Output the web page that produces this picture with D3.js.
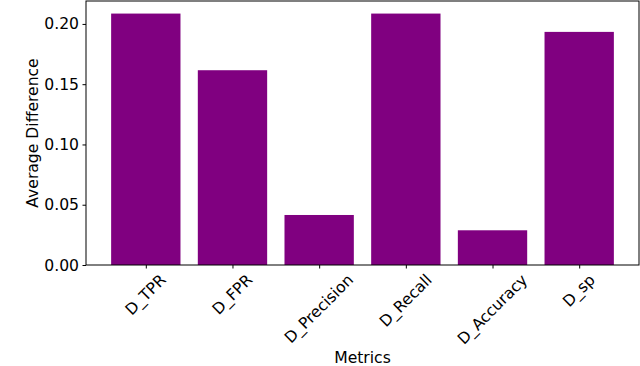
<!DOCTYPE html>
<html>
<head>
<meta charset="utf-8">
<script src="https://cdn.jsdelivr.net/npm/d3@7"></script>
<style>
  body { margin: 0; background: #fff; }
  text { font-family: "DejaVu Sans", sans-serif; }
</style>
</head>
<body>
<div id="chart"></div>
<script>
const metrics = ["D_TPR", "D_FPR", "D_Precision", "D_Recall", "D_Accuracy", "D_sp"];
const avgDiff = [0.2086, 0.1616, 0.0415, 0.2086, 0.0288, 0.1934];
const yTicks = [0.00, 0.05, 0.10, 0.15, 0.20];

const svgWidth = 640;
const svgHeight = 366;
const margin = { top: 1, right: 1, bottom: 101, left: 86 };
const width = svgWidth - margin.left - margin.right;
const height = svgHeight - margin.top - margin.bottom;
const fontSize = 15.6;

const svg = d3.select("#chart")
    .append("svg")
    .attr("width", svgWidth)
    .attr("height", svgHeight);

const g = svg.append("g")
    .attr("transform", `translate(${margin.left},${margin.top})`);

// matplotlib-like limits: bars of width 0.8 with 5% margins
const n = metrics.length;
const lo = -0.4 - 0.05 * (n - 0.2);
const hi = n - 1 + 0.4 + 0.05 * (n - 0.2);
const xScale = d3.scaleLinear().domain([lo, hi]).range([0, width]);

const yScale = d3.scaleLinear()
    .domain([0, d3.max(avgDiff) * 1.05])
    .range([height, 0]);

g.selectAll("rect.bar")
    .data(avgDiff)
    .enter()
    .append("rect")
    .attr("class", "bar")
    .attr("x", (d, i) => xScale(i - 0.4))
    .attr("width", xScale(0.8) - xScale(0))
    .attr("y", d => yScale(d))
    .attr("height", d => height - yScale(d))
    .attr("fill", "#800080");

// y axis
const yAxis = g.append("g")
    .call(d3.axisLeft(yScale).tickValues(yTicks).tickFormat(d3.format(".2f")).tickSize(3.5).tickPadding(3.5));
yAxis.select(".domain").remove();
yAxis.selectAll("text").attr("font-size", fontSize).attr("fill", "#000").style("font-family", "DejaVu Sans");
yAxis.selectAll("line").attr("stroke", "#000").attr("stroke-width", 1);

// x axis ticks
const xAxis = g.append("g")
    .attr("transform", `translate(0,${height})`)
    .call(d3.axisBottom(xScale).tickValues(d3.range(n)).tickSize(3.5).tickFormat(""));
xAxis.select(".domain").remove();
xAxis.selectAll("line").attr("stroke", "#000").attr("stroke-width", 1);

// rotated x labels, bbox centered on tick
metrics.forEach((m, i) => {
    const t = g.append("text")
        .attr("font-size", fontSize)
        .attr("text-anchor", "middle")
        .attr("dominant-baseline", "central")
        .text(m);
    const w = t.node().getComputedTextLength();
    const h = fontSize * 0.97;
    const cy = height + 7 + (w + h) * Math.SQRT1_2 / 2;
    t.attr("transform", `translate(${xScale(i)},${cy}) rotate(-45)`);
});

// frame
g.append("rect")
    .attr("width", width)
    .attr("height", height)
    .attr("fill", "none")
    .attr("stroke", "#000")
    .attr("stroke-width", 1);

// axis titles
svg.append("text")
    .attr("x", margin.left + width / 2)
    .attr("y", 363)
    .attr("text-anchor", "middle")
    .attr("font-size", fontSize)
    .text("Metrics");

svg.append("text")
    .attr("transform", `translate(38,${margin.top + height / 2}) rotate(-90)`)
    .attr("text-anchor", "middle")
    .attr("font-size", fontSize)
    .text("Average Difference");
</script>
</body>
</html>
